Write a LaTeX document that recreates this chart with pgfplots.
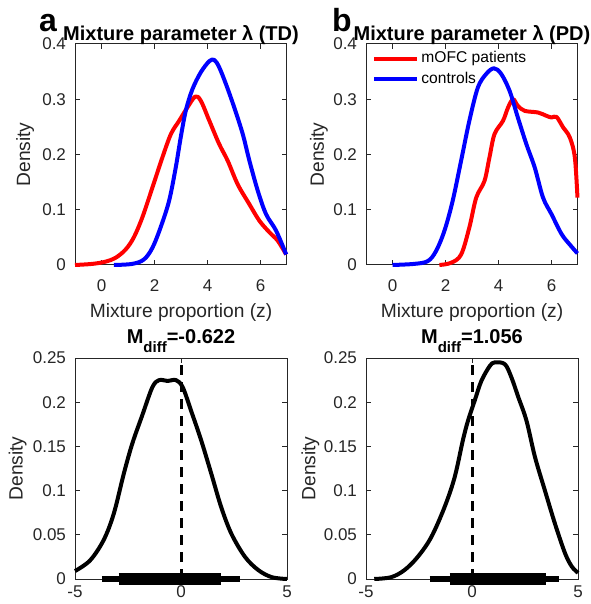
\documentclass[border=0pt]{standalone}
\usepackage{fontspec}
\setmainfont{Liberation Sans}
\usepackage{pgfplots}
\pgfplotsset{compat=1.18}
\definecolor{axgray}{HTML}{262626}
\definecolor{mred}{HTML}{FF0000}
\definecolor{mblue}{HTML}{0000FF}

\pgfplotsset{
  mat/.style={
    scale only axis, width=106pt, height=110.5pt,
    axis line style={axgray, line width=0.5pt},
    tick style={axgray, line width=0.5pt},
    tick align=inside, major tick length=2.5pt,
    tick label style={font=\fontsize{8.5}{10}\selectfont, text=axgray},
    label style={font=\fontsize{9.6}{11}\selectfont, text=axgray},
    every axis title shift=0pt,
    title style={font=\fontsize{10}{12}\selectfont\bfseries, text=black,
      at={(axis description cs:0.5,1)}, anchor=base},
    clip=false,
    yticklabel style={xshift=-1pt},
    ylabel={Density},
    every axis plot/.append style={line width=2pt, line join=round, no markers, smooth, tension=0.55},
  },
  toppanel/.style={mat,
    xmin=-1, xmax=7, ymin=0, ymax=0.4,
    xtick={0,2,4,6}, xticklabels={0,2,4,6},
    ytick={0,0.1,0.2,0.3,0.4}, yticklabels={0,0.1,0.2,0.3,0.4},
    xticklabel style={yshift=-4pt},
    xlabel={Mixture proportion (z)},
    xlabel style={at={(axis description cs:0.5,0)}, anchor=base, yshift=-26.5pt},
    title style={yshift=1.5pt},
  },
  botpanel/.style={mat,
    xmin=-5, xmax=5, ymin=0, ymax=0.25,
    xtick={-5,0,5}, xticklabels={-5,0,5},
    ytick={0,0.05,0.1,0.15,0.2,0.25}, yticklabels={0,0.05,0.1,0.15,0.2,0.25},
    title style={yshift=7.5pt},
  },
  legline/.style={legend image code/.code={\draw[##1] (0pt,0pt) -- (21.5pt,0pt);}},
  straight/.style={sharp plot},
}

\begin{document}
\begin{tikzpicture}
\useasboundingbox (0,0) rectangle (295pt,-302pt);

% top left: TD
\begin{axis}[toppanel, at={(37.5pt,-22pt)}, anchor=north west,
  title={Mixture parameter λ (TD)},
  ylabel style={at={(axis description cs:-0.235,0.5)}, anchor=center}]
\addplot[mred] coordinates {
  (-1,0) (-0.35,0.002) (0.15,0.006) (0.53,0.013) (0.91,0.028) (1.22,0.05)
  (1.54,0.086) (1.92,0.14) (2.3,0.195) (2.62,0.237) (2.93,0.261) (3.24,0.285)
  (3.54,0.305) (3.75,0.297) (4.07,0.261) (4.44,0.219) (4.76,0.189) (5.14,0.146)
  (5.58,0.11) (5.96,0.08) (6.34,0.059) (6.65,0.044) (6.97,0.019)
};
\addplot[mblue] coordinates {
  (0.47,0) (1.16,0.002) (1.6,0.01) (1.92,0.031) (2.23,0.068) (2.55,0.116)
  (2.8,0.176) (2.99,0.231) (3.18,0.279) (3.43,0.318) (3.75,0.349) (4.07,0.369)
  (4.26,0.371) (4.44,0.358) (4.7,0.327) (5.01,0.285) (5.33,0.237) (5.58,0.189)
  (5.9,0.134) (6.21,0.092) (6.59,0.062) (6.97,0.019)
};
\end{axis}

% top right: PD
\begin{axis}[toppanel, legline, at={(183pt,-22pt)}, anchor=north west,
  title={Mixture parameter λ (PD)},
  ylabel style={at={(axis description cs:-0.222,0.5)}, anchor=center},
  legend style={at={(axis description cs:0,1)}, anchor=north west, yshift=-1pt,
    draw=none, fill=none, font=\fontsize{7.8}{9}\selectfont,
    inner xsep=3pt, inner ysep=1.5pt, row sep=1.2pt,
    nodes={inner sep=1pt}},
  legend cell align=left]
\addplot[mred] coordinates {
  (1.77,0) (2.21,0.004) (2.59,0.019) (2.9,0.068) (3.16,0.122) (3.47,0.152)
  (3.66,0.195) (3.85,0.237) (4.17,0.261) (4.36,0.285) (4.55,0.3) (4.73,0.288)
  (4.99,0.279) (5.49,0.276) (5.81,0.27) (6.0,0.267) (6.19,0.268) (6.44,0.249)
  (6.69,0.231) (6.88,0.195) (6.98,0.122)
};
\addlegendentry{mOFC patients}
\addplot[mblue] coordinates {
  (0,0) (0.82,0.002) (1.33,0.007) (1.64,0.025) (1.96,0.062) (2.27,0.116)
  (2.59,0.189) (2.9,0.261) (3.22,0.321) (3.54,0.346) (3.83,0.356) (4.1,0.346)
  (4.42,0.315) (4.73,0.267) (5.05,0.219) (5.37,0.176) (5.68,0.122) (6.0,0.092)
  (6.38,0.056) (6.69,0.037) (6.98,0.021)
};
\addlegendentry{controls}
\end{axis}

% bottom left: difference TD
\begin{axis}[botpanel, at={(37.5pt,-179pt)}, anchor=north west,
  title={M\raisebox{-4.5pt}{\fontsize{7.5}{9}\selectfont diff}=-0.622},
  ylabel style={at={(axis description cs:-0.271,0.5)}, anchor=center}]
\addplot[black] coordinates {
  (-5,0.009) (-4.29,0.021) (-3.65,0.044) (-3.17,0.074) (-2.7,0.119)
  (-2.3,0.153) (-1.83,0.185) (-1.35,0.217) (-1.03,0.225) (-0.63,0.224)
  (-0.24,0.225) (0.08,0.217) (0.48,0.19) (0.95,0.157) (1.43,0.119)
  (1.9,0.081) (2.38,0.051) (3.02,0.025) (3.65,0.01) (4.29,0.002) (5,0)
};
\addplot[black, straight, line width=1.5pt, dash pattern=on 5pt off 3.5pt] coordinates {(0,0) (0,0.25)};
\addplot[black, straight, line width=2.8pt, line cap=butt] coordinates {(-3.73,0) (2.78,0)};
\addplot[black, straight, line width=5.8pt, line cap=butt] coordinates {(-2.94,0) (1.9,0)};
\end{axis}

% bottom right: difference PD
\begin{axis}[botpanel, at={(183pt,-179pt)}, anchor=north west,
  title={M\raisebox{-4.5pt}{\fontsize{7.5}{9}\selectfont diff}=1.056},
  ylabel style={at={(axis description cs:-0.262,0.5)}, anchor=center}]
\addplot[black] coordinates {
  (-4.61,0) (-3.82,0.002) (-3.19,0.01) (-2.56,0.025) (-1.93,0.047)
  (-1.3,0.081) (-0.82,0.115) (-0.43,0.157) (-0.19,0.179) (0.13,0.202)
  (0.44,0.224) (0.84,0.241) (1.07,0.245) (1.55,0.243) (1.86,0.228)
  (2.18,0.206) (2.57,0.179) (2.97,0.138) (3.44,0.1) (3.92,0.062)
  (4.39,0.029) (4.71,0.014) (5,0.007)
};
\addplot[black, straight, line width=1.5pt, dash pattern=on 5pt off 3.5pt] coordinates {(0,0) (0,0.25)};
\addplot[black, straight, line width=2.8pt, line cap=butt] coordinates {(-2.0,0) (4.08,0)};
\addplot[black, straight, line width=5.8pt, line cap=butt] coordinates {(-1.06,0) (3.47,0)};
\end{axis}

\node[anchor=base west, font=\fontsize{16}{18}\selectfont\bfseries] at (16pt,-15.8pt) {a};
\node[anchor=base west, font=\fontsize{16}{18}\selectfont\bfseries] at (162.5pt,-15.8pt) {b};
\end{tikzpicture}
\end{document}
